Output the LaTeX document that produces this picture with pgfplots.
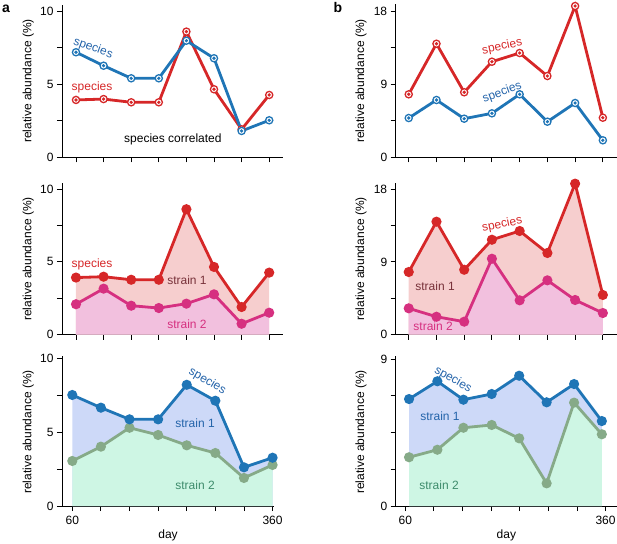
\documentclass[border=0pt]{standalone}
\usepackage{fontspec}
\setmainfont{Liberation Sans}
\usepackage{pgfplots}
\pgfplotsset{compat=1.18}
\definecolor{blueL}{RGB}{31,117,182}
\definecolor{redL}{RGB}{214,39,40}
\definecolor{magL}{RGB}{214,48,128}
\definecolor{greenL}{RGB}{134,170,136}
\definecolor{pinkF}{RGB}{246,206,206}
\definecolor{pinkS}{RGB}{242,192,222}
\definecolor{blueF}{RGB}{205,217,248}
\definecolor{mintF}{RGB}{206,246,228}
\definecolor{brownT}{RGB}{120,50,58}
\definecolor{blueT}{RGB}{36,100,170}
\definecolor{greenT}{RGB}{62,140,108}
\pgfdeclareplotmark{cdot}{%
  \pgfpathcircle{\pgfpointorigin}{\pgfplotmarksize}\pgfusepathqfillstroke
  \pgfpathcircle{\pgfpointorigin}{0.25\pgfplotmarksize}\pgfusepathqstroke}
\newcommand{\lab}{\fontsize{12}{14}\selectfont}
\pgfplotsset{
  panel/.style={scale only axis, anchor=south west, axis lines=left,
    axis line style={-, line width=1pt}, tick align=outside,
    major tick length=5pt, tick style={black, line width=0.9pt},
    xtick={0,...,7}, xticklabels={}, ymin=0, clip=false,
    tick label style={font=\lab},
    /pgf/number format/assume math mode=true},
  oline/.style={line width=2.8pt, mark=cdot, mark size=3.6pt, mark options={fill=white, line width=1.3pt}},
  fline/.style={line width=2.8pt, mark=*, mark size=3.6pt},
  bottomx/.style={xticklabels={60,,,,,,,360}, xlabel={day},
    xticklabel style={yshift=-2pt},
    xlabel style={font=\lab, yshift=2pt}},
}
\begin{document}
\begin{tikzpicture}
\path[use as bounding box] (0,0) rectangle (617pt,543pt);
% ---------- a1 ----------
\begin{axis}[panel, at={(62pt,385.7pt)}, width=221pt, height=152.3pt,
  xmin=-0.507, xmax=7.5, ymax=10.41, ytick={0,2.5,5,7.5,10}, yticklabels={0,,5,,10}]
\addplot[oline, redL] coordinates {(0,3.92)(1,3.98)(2,3.76)(3,3.76)(4,8.59)(5,4.65)(6,1.91)(7,4.26)};
\addplot[oline, blueL] coordinates {(0,7.18)(1,6.26)(2,5.40)(3,5.40)(4,7.97)(5,6.77)(6,1.80)(7,2.53)};
\node[blueT, rotate=-20, font=\lab] at (axis cs:0.62,7.45) {species};
\node[redL, font=\lab] at (axis cs:0.58,4.80) {species};
\node[black, font=\lab] at (axis cs:3.51,1.25) {species correlated};
\end{axis}
% ---------- a2 ----------
\begin{axis}[panel, at={(62pt,208.3pt)}, width=221pt, height=152pt,
  xmin=-0.507, xmax=7.5, ymax=10.43, ytick={0,2.5,5,7.5,10}, yticklabels={0,,5,,10}]
\addplot[fill=pinkF, draw=none] coordinates {(0,3.92)(1,3.98)(2,3.77)(3,3.77)(4,8.61)(5,4.65)(6,1.90)(7,4.26)} \closedcycle;
\addplot[fill=pinkS, draw=none] coordinates {(0,2.09)(1,3.16)(2,1.99)(3,1.83)(4,2.13)(5,2.77)(6,0.75)(7,1.51)} \closedcycle;
\addplot[fline, magL] coordinates {(0,2.09)(1,3.16)(2,1.99)(3,1.83)(4,2.13)(5,2.77)(6,0.75)(7,1.51)};
\addplot[fline, redL] coordinates {(0,3.92)(1,3.98)(2,3.77)(3,3.77)(4,8.61)(5,4.65)(6,1.90)(7,4.26)};
\node[redL, font=\lab] at (axis cs:0.58,4.79) {species};
\node[brownT, font=\lab] at (axis cs:4.02,3.76) {strain 1};
\node[magL, font=\lab] at (axis cs:4.02,0.73) {strain 2};
\end{axis}
% ---------- a3 ----------
\begin{axis}[panel, bottomx, at={(62pt,37pt)}, width=212pt, height=150pt,
  xmin=-0.36, xmax=7.05, ymax=10.16, ytick={0,2.5,5,7.5,10}, yticklabels={0,,5,,10}]
\addplot[fill=blueF, draw=none] coordinates {(0,7.52)(1,6.66)(2,5.87)(3,5.87)(4,8.21)(5,7.13)(6,2.62)(7,3.27)} \closedcycle;
\addplot[fill=mintF, draw=none] coordinates {(0,3.05)(1,4.02)(2,5.30)(3,4.81)(4,4.11)(5,3.59)(6,1.90)(7,2.78)} \closedcycle;
\addplot[fline, greenL] coordinates {(0,3.05)(1,4.02)(2,5.30)(3,4.81)(4,4.11)(5,3.59)(6,1.90)(7,2.78)};
\addplot[fline, blueL] coordinates {(0,7.52)(1,6.66)(2,5.87)(3,5.87)(4,8.21)(5,7.13)(6,2.62)(7,3.27)};
\node[blueT, rotate=-30, font=\lab, fill=white, inner sep=1pt] at (axis cs:4.72,8.45) {species};
\node[blueT, font=\lab] at (axis cs:4.29,5.62) {strain 1};
\node[greenT, font=\lab] at (axis cs:4.29,1.42) {strain 2};
\end{axis}
% ---------- b1 ----------
\begin{axis}[panel, at={(395.7pt,385.7pt)}, width=221pt, height=153.3pt,
  xmin=-0.47, xmax=7.5, ymax=18.86, ytick={0,4.5,9,13.5,18}, yticklabels={0,,9,,18}]
\addplot[oline, redL] coordinates {(0,7.75)(1,13.97)(2,8.0)(3,11.76)(4,12.83)(5,10.0)(6,18.61)(7,4.87)};
\addplot[oline, blueL] coordinates {(0,4.83)(1,7.05)(2,4.75)(3,5.41)(4,7.75)(5,4.38)(6,6.68)(7,2.09)};
\node[redL, rotate=12, font=\lab] at (axis cs:3.37,13.6) {species};
\node[blueT, rotate=20, font=\lab] at (axis cs:3.37,7.95) {species};
\end{axis}
% ---------- b2 ----------
\begin{axis}[panel, at={(395.7pt,208.3pt)}, width=221pt, height=152pt,
  xmin=-0.47, xmax=7.5, ymax=18.79, ytick={0,4.5,9,13.5,18}, yticklabels={0,,9,,18}]
\addplot[fill=pinkF, draw=none] coordinates {(0,7.75)(1,13.97)(2,8.03)(3,11.74)(4,12.82)(5,10.1)(6,18.67)(7,4.91)} \closedcycle;
\addplot[fill=pinkS, draw=none] coordinates {(0,3.26)(1,2.22)(2,1.61)(3,9.39)(4,4.25)(5,6.72)(6,4.29)(7,2.68)} \closedcycle;
\addplot[fline, magL] coordinates {(0,3.26)(1,2.22)(2,1.61)(3,9.39)(4,4.25)(5,6.72)(6,4.29)(7,2.68)};
\addplot[fline, redL] coordinates {(0,7.75)(1,13.97)(2,8.03)(3,11.74)(4,12.82)(5,10.1)(6,18.67)(7,4.91)};
\node[redL, rotate=12, font=\lab] at (axis cs:3.37,13.6) {species};
\node[brownT, font=\lab] at (axis cs:0.95,6.0) {strain 1};
\node[magL, font=\lab] at (axis cs:0.88,1.08) {strain 2};
\end{axis}
% ---------- b3 ----------
\begin{axis}[panel, bottomx, at={(395.7pt,37pt)}, width=221.3pt, height=150pt,
  xmin=-0.336, xmax=7.4, ymax=9.2, ytick={0,2.25,4.5,6.75,9}, yticklabels={0,,,,9}]
\addplot[fill=blueF, draw=none] coordinates {(0.13,6.56)(1.12,7.65)(2.03,6.52)(3.02,6.87)(3.98,7.99)(4.94,6.36)(5.90,7.48)(6.87,5.21)} \closedcycle;
\addplot[fill=mintF, draw=none] coordinates {(0.13,2.99)(1.12,3.45)(2.03,4.80)(3.02,4.97)(3.98,4.15)(4.94,1.39)(5.90,6.34)(6.87,4.40)} \closedcycle;
\addplot[fline, greenL] coordinates {(0.13,2.99)(1.12,3.45)(2.03,4.80)(3.02,4.97)(3.98,4.15)(4.94,1.39)(5.90,6.34)(6.87,4.40)};
\addplot[fline, blueL] coordinates {(0.13,6.56)(1.12,7.65)(2.03,6.52)(3.02,6.87)(3.98,7.99)(4.94,6.36)(5.90,7.48)(6.87,5.21)};
\node[blueT, rotate=-30, font=\lab, fill=white, inner sep=1pt] at (axis cs:1.67,7.75) {species};
\node[blueT, font=\lab] at (axis cs:1.21,5.52) {strain 1};
\node[greenT, font=\lab] at (axis cs:1.18,1.29) {strain 2};
\end{axis}
% y labels and panel letters
\node[rotate=90, font=\lab] at (28.3pt,462pt) {relative abundance (\%)};
\node[rotate=90, font=\lab] at (28.3pt,284pt) {relative abundance (\%)};
\node[rotate=90, font=\lab] at (28.3pt,111pt) {relative abundance (\%)};
\node[rotate=90, font=\lab] at (361pt,462pt) {relative abundance (\%)};
\node[rotate=90, font=\lab] at (361pt,284pt) {relative abundance (\%)};
\node[rotate=90, font=\lab] at (361pt,111pt) {relative abundance (\%)};
\node[font=\fontsize{14}{16}\selectfont\bfseries] at (6pt,534pt) {a};
\node[font=\fontsize{14}{16}\selectfont\bfseries] at (338pt,535pt) {b};
\end{tikzpicture}
\end{document}
